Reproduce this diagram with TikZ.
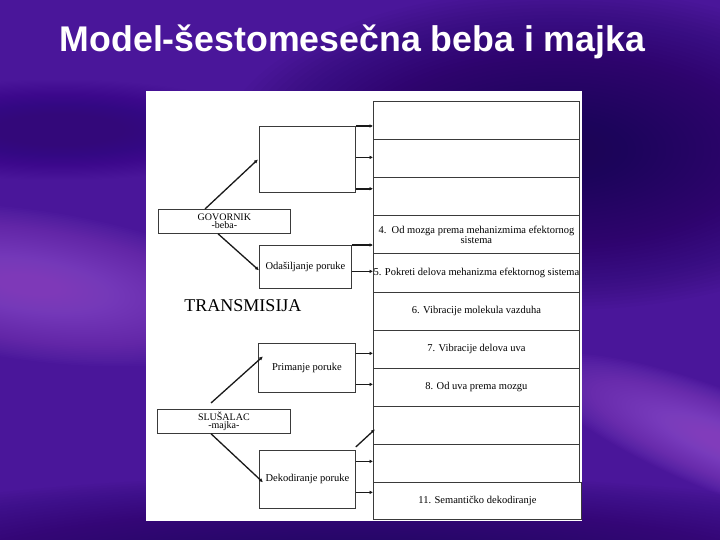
\documentclass[tikz,border=0pt]{standalone}
\usepackage{fontspec}
\usepackage{graphicx}
\setmainfont{Liberation Serif}
\newfontfamily\titlefont{Liberation Sans}
\usetikzlibrary{arrows.meta,calc}
\definecolor{bgbase}{HTML}{4A169A}
\definecolor{bgdark}{HTML}{1C0450}
\definecolor{bgmid}{HTML}{33087A}
\definecolor{bglight}{HTML}{9A55D4}
\definecolor{bgbottom}{HTML}{22065A}
\definecolor{linec}{HTML}{3A3A3A}
\newcommand\bgblob[7]{%
  \begin{scope}[shift={(#2,#3)}, rotate=#7]
  \foreach \k in {1,...,45} {
    \fill[#1, opacity=#6] (0,0) ellipse [x radius={#4/45*\k}, y radius={#5/45*\k}];
  }
  \end{scope}}
\begin{document}
\begin{tikzpicture}[x=1pt,y=-1pt,
  lbox/.style={draw=linec, line width=0.75pt, inner sep=0pt, anchor=north west, align=center, font=\fontsize{10.5}{11}\selectfont},
  rowbox/.style={draw=linec, line width=0.8pt, inner sep=0pt, anchor=north west, minimum width=206pt, minimum height=38.1pt, align=center, font=\fontsize{10.5}{11}\selectfont},
  arr/.style={draw=black!90, line width=1.6pt, -{Latex[length=3.5pt,width=3.8pt]}},
  diag/.style={draw=black!90, line width=1.3pt, -{Latex[length=4pt,width=3.8pt]}},
]
% background
\fill[bgbase] (0,0) rectangle (720,540);
\begin{scope}
\clip (0,0) rectangle (720,540);
\bgblob{bgdark}{560}{150}{340}{160}{0.035}{0}
\bgblob{bgmid}{60}{130}{210}{50}{0.025}{0}
\bgblob{bglight}{30}{285}{240}{75}{0.035}{-8}
\bgblob{bglight}{730}{445}{210}{50}{0.04}{-22}
\bgblob{bgbottom}{360}{575}{640}{100}{0.035}{0}
\end{scope}
% title
\node[font=\titlefont\bfseries\fontsize{35.7}{36}\selectfont, text=white, anchor=base, inner sep=0pt] (title) at (352.5,52) {Model-šestomesečna beba i majka};
% panel
\node[fill=white, anchor=north west, minimum width=436pt, minimum height=430pt, inner sep=0pt] (panel) at (146,91) {};
% right column
\node[rowbox] (r1) at (373,101) {};
\node[rowbox] (r2) at (373,139.1) {};
\node[rowbox] (r3) at (373,177.2) {};
\node[rowbox] (r4) at (373,215.3) {4.\ \ Od mozga prema mehanizmima efektornog\\[-1pt]sistema};
\node[rowbox] (r5) at (373,253.4) {5. Pokreti delova mehanizma efektornog sistema};
\node[rowbox] (r6) at (373,291.5) {6. Vibracije molekula vazduha};
\node[rowbox] (r7) at (373,329.6) {7. Vibracije delova uva};
\node[rowbox] (r8) at (373,367.7) {8. Od uva prema mozgu};
\node[rowbox] (r9) at (373,405.8) {};
\node[rowbox] (r10) at (373,443.9) {};
\node[rowbox, minimum width=208pt, minimum height=37pt] (r11) at (373,482) {\raisebox{3pt}{11. Semantičko dekodiranje}};
% left boxes
\node[lbox, minimum width=96pt, minimum height=66pt] (b1) at (259,126) {};
\node[lbox, minimum width=132pt, minimum height=24pt, font=\fontsize{10}{8.5}\selectfont] (gov) at (158,209) {GOVORNIK\\-beba-};
\node[lbox, minimum width=92pt, minimum height=43pt] (od) at (259,245) {\raisebox{-3pt}{Odašiljanje poruke}};
\node[font=\fontsize{18}{20}\selectfont, inner sep=0pt] (trans) at (243,306) {TRANSMISIJA};
\node[lbox, minimum width=97pt, minimum height=49pt] (prim) at (258,343) {Primanje poruke};
\node[lbox, minimum width=133pt, minimum height=24pt, font=\fontsize{10}{8.5}\selectfont] (slus) at (157,409) {SLUŠALAC\\-majka-};
\node[lbox, minimum width=96pt, minimum height=58pt] (dek) at (259,450) {\raisebox{-3pt}{Dekodiranje poruke}};
% arrows to column
\draw[arr] (b1.north east) -- (b1.north east -| r1.west);
\draw[arr] ([yshift=2pt]b1.east) -- ([yshift=2pt]b1.east -| r2.west);
\draw[arr] ([yshift=4pt]b1.south east) -- ([yshift=4pt]b1.south east -| r3.west);
\draw[arr] (od.north east) -- (od.north east -| r4.west);
\draw[arr] ([yshift=-4.5pt]od.east) -- ([yshift=-4.5pt]od.east -| r5.west);
\draw[arr] ([yshift=14.5pt]prim.east) -- ([yshift=14.5pt]prim.east -| r7.west);
\draw[arr] ([yshift=-16.5pt]prim.east) -- ([yshift=-16.5pt]prim.east -| r8.west);
\draw[diag] ([yshift=3pt]dek.north east) -- ([xshift=2pt,yshift=-4pt]r9.west);
\draw[arr] ([yshift=18pt]dek.east) -- ([yshift=18pt]dek.east -| r10.west);
\draw[arr] ([yshift=-13pt]dek.east) -- ([yshift=-13pt]dek.east -| r11.west);
% speaker / listener connectors
\draw[diag] ([xshift=47pt]gov.north west) -- ([xshift=-1pt]b1.west);
\draw[diag] ([xshift=60pt]gov.south west) -- ([yshift=-3.5pt]od.west);
\draw[diag] ([xshift=54pt,yshift=6pt]slus.north west) -- ([xshift=5pt,yshift=11.5pt]prim.west);
\draw[diag] ([xshift=54pt]slus.south west) -- ([xshift=4pt,yshift=-3pt]dek.west);
\useasboundingbox (0,0) rectangle (720,540);
\end{tikzpicture}
\end{document}
